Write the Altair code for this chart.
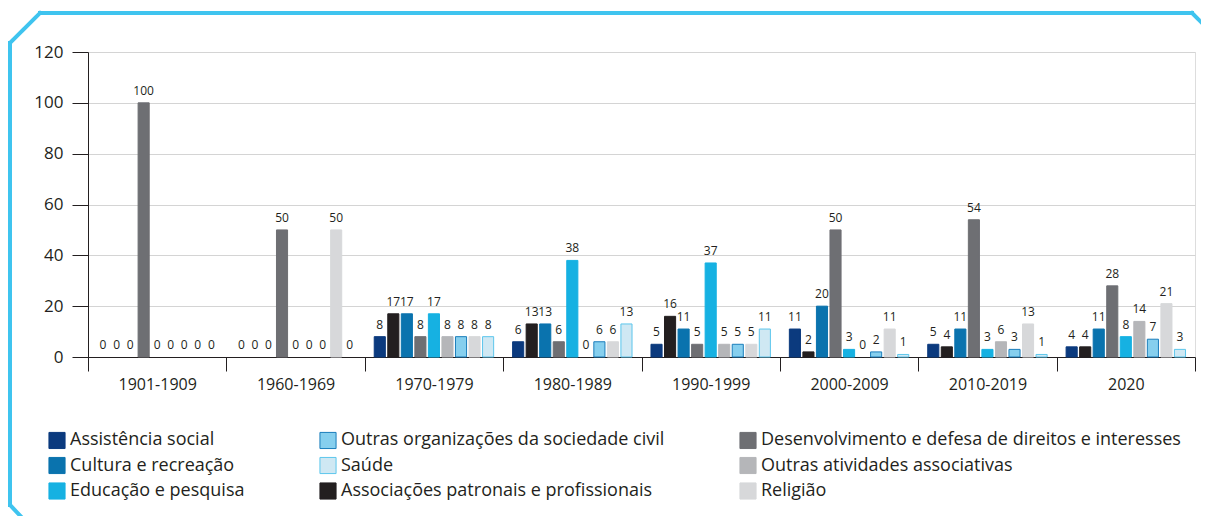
import altair as alt
import pandas as pd

periods = ["1901-1909", "1960-1969", "1970-1979", "1980-1989",
           "1990-1999", "2000-2009", "2010-2019", "2020"]

# series in bar order (alphabetical), values per period
assistencia = [0, 0, 8, 6, 5, 11, 5, 4]
associacoes = [0, 0, 17, 13, 16, 2, 4, 4]
cultura = [0, 0, 17, 13, 11, 20, 11, 11]
desenvolvimento = [100, 50, 8, 6, 5, 50, 54, 28]
educacao = [0, 0, 17, 38, 37, 3, 3, 8]
outras_atividades = [0, 0, 8, 0, 5, 0, 6, 14]
outras_org = [0, 0, 8, 6, 5, 2, 3, 7]
religiao = [0, 50, 8, 6, 5, 11, 13, 21]
saude = [0, 0, 8, 13, 11, 1, 1, 3]

series_names = [
    "Assistência social",
    "Associações patronais e profissionais",
    "Cultura e recreação",
    "Desenvolvimento e defesa de direitos e interesses",
    "Educação e pesquisa",
    "Outras atividades associativas",
    "Outras organizações da sociedade civil",
    "Religião",
    "Saúde",
]
series_values = [assistencia, associacoes, cultura, desenvolvimento, educacao,
                 outras_atividades, outras_org, religiao, saude]

# legend order (column by column, 3 columns)
legend_order = [
    "Assistência social",
    "Cultura e recreação",
    "Educação e pesquisa",
    "Outras organizações da sociedade civil",
    "Saúde",
    "Associações patronais e profissionais",
    "Desenvolvimento e defesa de direitos e interesses",
    "Outras atividades associativas",
    "Religião",
]
fill_colors = {
    "Assistência social": "#0b3a7e",
    "Associações patronais e profissionais": "#231f20",
    "Cultura e recreação": "#0a73ae",
    "Desenvolvimento e defesa de direitos e interesses": "#6e6f73",
    "Educação e pesquisa": "#16b1e2",
    "Outras atividades associativas": "#b5b6b9",
    "Outras organizações da sociedade civil": "#86cfee",
    "Religião": "#d7d8da",
    "Saúde": "#cfe8f3",
}
stroke_colors = dict(fill_colors)
stroke_colors["Outras organizações da sociedade civil"] = "#1a7dbb"
stroke_colors["Saúde"] = "#5cc6ec"

rows = []
for name, vals in zip(series_names, series_values):
    for p, v in zip(periods, vals):
        rows.append({"periodo": p, "serie": name, "valor": v})
df = pd.DataFrame(rows)

FONT = "Open Sans"
TXT = "#231f20"

x_enc = alt.X("periodo:N", sort=periods, title=None,
              scale=alt.Scale(paddingInner=0, paddingOuter=0),
              axis=alt.Axis(labelAngle=0, tickBand="extent", tickSize=14,
                            labelFontSize=16, labelPadding=5, labelColor=TXT,
                            tickColor=TXT, domainColor=TXT, grid=False,
                            labelFont=FONT))
xoff_enc = alt.XOffset("serie:N", sort=series_names,
                       scale=alt.Scale(paddingInner=0.18, paddingOuter=0.7))
y_enc = alt.Y("valor:Q", title=None,
              scale=alt.Scale(domain=[0, 120], nice=False),
              axis=alt.Axis(values=[0, 20, 40, 60, 80, 100, 120], tickSize=16,
                            labelFontSize=17, labelPadding=9, labelColor=TXT,
                            tickColor=TXT, domainColor=TXT, grid=True,
                            gridColor="#d4d4d4", labelFont=FONT))

bars = alt.Chart(df).mark_bar(strokeWidth=1).encode(
    x=x_enc,
    xOffset=xoff_enc,
    y=y_enc,
    color=alt.Color("serie:N", title=None,
                    scale=alt.Scale(domain=legend_order,
                                    range=[fill_colors[s] for s in legend_order]),
                    legend=alt.Legend(orient="none", legendX=-40, legendY=379,
                                      columns=3, columnPadding=72, rowPadding=3.5,
                                      symbolType="square", symbolSize=260,
                                      symbolStrokeWidth=1, labelFontSize=18,
                                      labelFont=FONT, labelColor=TXT,
                                      labelOffset=4, labelLimit=500)),
    stroke=alt.Stroke("serie:N", title=None,
                      scale=alt.Scale(domain=legend_order,
                                      range=[stroke_colors[s] for s in legend_order])),
    strokeOpacity=alt.condition("datum.valor > 0", alt.value(1), alt.value(0)),
)

labels = alt.Chart(df).mark_text(baseline="bottom", dy=-5, fontSize=12,
                                 font=FONT, color=TXT).encode(
    x=alt.X("periodo:N", sort=periods),
    xOffset=alt.XOffset("serie:N", sort=series_names),
    y="valor:Q",
    text="valor:Q",
)

one = pd.DataFrame({"k": [0]})
FRAME = "#3fc4ef"
def seg(x1, y1, x2, y2):
    return alt.Chart(one).mark_rule(color=FRAME, strokeWidth=4,
                                    strokeCap="square").encode(
        x=alt.value(x1), y=alt.value(y1), x2=alt.value(x2), y2=alt.value(y2))

frame = (seg(-48, -39, 1104, -39) + seg(-78, -9, -48, -39) +
         seg(-78, -9, -78, 453) + seg(-78, 453, -60, 472) +
         seg(1104, -39, 1121, -22))

chart = alt.layer(frame, bars, labels).properties(
    width=1107, height=305,
    autosize=alt.AutoSizeParams(type="none"),
    padding={"left": 80, "top": 44, "right": 6, "bottom": 159},
).configure_view(stroke=TXT, strokeWidth=1).configure(font=FONT)

chart.save("out.html", embed_options={"renderer": "svg", "actions": False})
